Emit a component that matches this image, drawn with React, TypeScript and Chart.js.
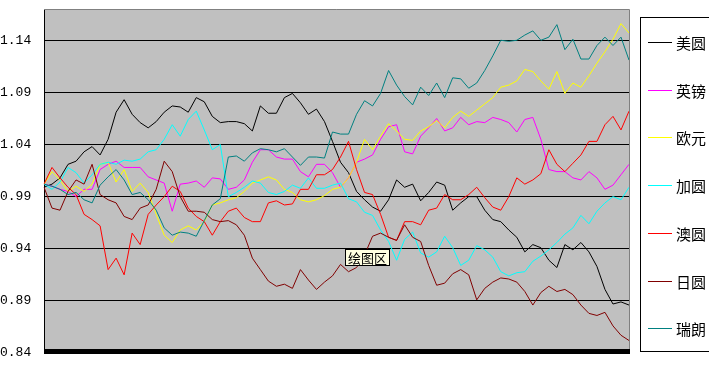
import React, { useEffect, useRef } from "react";
import { Chart, registerables } from "chart.js";

Chart.register(...registerables);

const seriesNames = ["美圆", "英镑", "欧元", "加圆", "澳圆", "日圆", "瑞朗"];

const usd = [
  0.999, 1.002, 1.008, 1.021, 1.024, 1.033, 1.038, 1.030, 1.045, 1.071,
  1.083, 1.069, 1.061, 1.056, 1.062, 1.071, 1.077, 1.076, 1.071, 1.085,
  1.081, 1.067, 1.061, 1.062, 1.062, 1.060, 1.053, 1.077, 1.070, 1.070,
  1.085, 1.089, 1.080, 1.069, 1.074, 1.062, 1.043, 1.023, 1.013, 0.995,
  0.987, 0.980, 0.976, 0.987, 1.006, 0.999, 1.002, 0.986, 0.994, 1.004,
  1.001, 0.977, 0.984, 0.990, 0.990, 0.977, 0.968, 0.966, 0.958, 0.951,
  0.937, 0.944, 0.941, 0.929, 0.922, 0.944, 0.939, 0.946, 0.937, 0.923,
  0.901, 0.887, 0.889, 0.886,
];

const gbp = [
  1.002, 1.000, 0.997, 0.995, 0.990, 0.997, 0.997, 1.016, 1.021, 1.024,
  1.018, 1.018, 1.018, 1.009, 1.006, 1.003, 0.976, 1.002, 1.003, 1.005,
  0.999, 1.008, 1.007, 0.997, 0.999, 1.006, 1.023, 1.035, 1.035, 1.028,
  1.026, 1.026, 1.014, 1.009, 1.021, 1.021, 1.013, 0.999, 1.008, 1.023,
  1.026, 1.030, 1.045, 1.057, 1.059, 1.033, 1.031, 1.048, 1.056, 1.065,
  1.053, 1.056, 1.066, 1.059, 1.062, 1.061, 1.066, 1.064, 1.061, 1.052,
  1.064, 1.066, 1.045, 1.016, 1.014, 1.014, 1.008, 1.006, 1.014, 1.008,
  0.997, 1.001, 1.011, 1.021,
];

const eur = [
  1.002, 1.014, 1.006, 0.995, 1.000, 0.995, 1.002, 1.021, 1.023, 1.004,
  1.016, 0.995, 1.003, 0.994, 0.973, 0.953, 0.946, 0.958, 0.962, 0.958,
  0.966, 0.982, 0.984, 0.987, 0.989, 0.995, 1.003, 1.006, 1.009, 1.006,
  0.997, 0.994, 0.987, 0.985, 0.987, 0.991, 0.997, 0.999, 1.008, 1.023,
  1.045, 1.035, 1.048, 1.060, 1.053, 1.045, 1.044, 1.053, 1.057, 1.063,
  1.056, 1.066, 1.072, 1.067, 1.073, 1.079, 1.085, 1.095, 1.097, 1.101,
  1.112, 1.110, 1.101, 1.093, 1.110, 1.089, 1.099, 1.095, 1.106, 1.118,
  1.129, 1.141, 1.156, 1.147,
];

const cad = [
  1.002, 0.997, 1.004, 1.018, 1.013, 1.003, 1.011, 1.021, 1.023, 1.021,
  1.025, 1.024, 1.026, 1.033, 1.035, 1.045, 1.059, 1.048, 1.064, 1.072,
  1.054, 1.035, 1.040, 0.990, 0.994, 0.999, 1.005, 1.003, 0.994, 0.992,
  0.995, 1.001, 0.998, 1.008, 0.998, 0.998, 1.001, 1.003, 0.988, 0.985,
  0.975, 0.972, 0.958, 0.947, 0.929, 0.949, 0.956, 0.936, 0.932, 0.937,
  0.952, 0.941, 0.924, 0.929, 0.943, 0.939, 0.932, 0.918, 0.914, 0.917,
  0.918, 0.928, 0.933, 0.939, 0.946, 0.954, 0.960, 0.972, 0.964, 0.976,
  0.984, 0.990, 0.987, 0.999,
];

const aud = [
  1.002, 1.018, 1.008, 0.999, 0.992, 0.973, 0.968, 0.962, 0.920, 0.931,
  0.915, 0.955, 0.944, 0.973, 0.982, 0.990, 1.000, 0.995, 0.979, 0.971,
  0.966, 0.953, 0.966, 0.976, 0.979, 0.970, 0.966, 0.966, 0.984, 0.986,
  0.982, 0.983, 0.997, 0.997, 1.011, 1.011, 1.016, 1.028, 1.043, 1.016,
  0.994, 0.992, 0.973, 0.951, 0.948, 0.966, 0.966, 0.963, 0.977, 0.979,
  0.992, 0.987, 0.987, 0.992, 0.999, 0.989, 0.980, 0.977, 0.990, 1.008,
  1.002, 1.006, 1.012, 1.035, 1.021, 1.014, 1.022, 1.030, 1.043, 1.043,
  1.059, 1.067, 1.054, 1.072,
];

const jpy = [
  0.999, 0.979, 0.977, 0.995, 1.006, 1.002, 1.021, 0.992, 0.987, 0.984,
  0.971, 0.968, 0.979, 0.982, 0.997, 1.024, 1.014, 0.990, 0.976, 0.976,
  0.975, 0.968, 0.966, 0.967, 0.963, 0.953, 0.931, 0.920, 0.909, 0.904,
  0.906, 0.902, 0.920, 0.910, 0.901, 0.908, 0.914, 0.925, 0.918, 0.922,
  0.934, 0.952, 0.955, 0.951, 0.948, 0.963, 0.951, 0.947, 0.924, 0.905,
  0.907, 0.916, 0.920, 0.915, 0.891, 0.902, 0.908, 0.912, 0.911, 0.908,
  0.899, 0.886, 0.898, 0.904, 0.899, 0.901, 0.896, 0.886, 0.878, 0.876,
  0.879, 0.866, 0.857, 0.852,
];

const chf = [
  1.002, 1.000, 0.997, 0.992, 0.994, 0.987, 0.984, 1.001, 1.009, 1.016,
  1.006, 0.992, 0.994, 0.987, 0.977, 0.960, 0.953, 0.956, 0.955, 0.952,
  0.967, 0.982, 0.988, 1.028, 1.029, 1.024, 1.032, 1.036, 1.035, 1.033,
  1.036, 1.028, 1.020, 1.028, 1.028, 1.027, 1.052, 1.050, 1.050, 1.069,
  1.082, 1.077, 1.089, 1.111, 1.097, 1.086, 1.078, 1.095, 1.087, 1.099,
  1.085, 1.104, 1.103, 1.094, 1.099, 1.111, 1.125, 1.140, 1.139, 1.140,
  1.145, 1.149, 1.140, 1.143, 1.155, 1.131, 1.141, 1.122, 1.122, 1.135,
  1.143, 1.135, 1.143, 1.121,
];

const seriesValues = [usd, gbp, eur, cad, aud, jpy, chf];
const seriesColors = ["#000000", "#ff00ff", "#ffff00", "#00ffff", "#ff0000", "#800000", "#008080"];
const yTickValues = [0.84, 0.89, 0.94, 0.99, 1.04, 1.09, 1.14];
const yMin = 0.84;
const yMax = 1.17;
const hoverLabel = "绘图区";
const periods = usd.map((_, i) => String(i + 1));

const plotFrame = {
  id: "plotFrame",
  beforeDraw(chart: any) {
    const { ctx, chartArea: a } = chart;
    ctx.save();
    ctx.fillStyle = "#c0c0c0";
    ctx.fillRect(a.left, a.top, a.right - a.left, a.bottom - a.top);
    ctx.restore();
  },
  afterDatasetsDraw(chart: any) {
    const { ctx, chartArea: a } = chart;
    ctx.save();
    ctx.strokeStyle = "#808080";
    ctx.lineWidth = 1;
    ctx.beginPath();
    ctx.moveTo(a.left, a.top + 0.5);
    ctx.lineTo(a.right + 0.5, a.top + 0.5);
    ctx.lineTo(a.right + 0.5, a.bottom);
    ctx.stroke();
    ctx.fillStyle = "#000000";
    ctx.fillRect(a.left, a.bottom - 4, a.right - a.left + 1, 5);
    ctx.restore();
  },
};

const boxLegend = {
  id: "boxLegend",
  afterDraw(chart: any) {
    const ctx = chart.ctx;
    ctx.save();
    ctx.strokeStyle = "#000000";
    ctx.lineWidth = 1;
    ctx.strokeRect(640.5, 17.5, 120, 334);
    ctx.font = '15px "Noto Sans CJK SC"';
    ctx.textBaseline = "middle";
    ctx.textAlign = "left";
    chart.data.datasets.forEach((ds: any, i: number) => {
      const y = Math.round(42 + i * 47.7) + 0.5;
      ctx.strokeStyle = ds.borderColor;
      ctx.beginPath();
      ctx.moveTo(648, y);
      ctx.lineTo(672, y);
      ctx.stroke();
      ctx.fillStyle = "#000000";
      ctx.fillText(ds.label, 676, y + 0.5);
    });
    // hover label box
    ctx.fillStyle = "#ffffe1";
    ctx.fillRect(345, 249, 44, 16);
    ctx.strokeStyle = "#000000";
    ctx.strokeRect(345.5, 249.5, 44, 16);
    ctx.fillStyle = "#000000";
    ctx.font = '13px "Noto Sans CJK SC"';
    ctx.fillText(hoverLabel, 348, 258);
    ctx.restore();
  },
};

export default function App() {
  const ref = useRef<HTMLCanvasElement>(null);
  useEffect(() => {
    if (!ref.current) return;
    const n = seriesNames.length;
    const chart = new Chart(ref.current, {
      type: "line",
      data: {
        labels: periods,
        datasets: seriesNames.map((name, i) => ({
          label: name,
          data: seriesValues[i],
          borderColor: seriesColors[i],
          backgroundColor: seriesColors[i],
          borderWidth: 1,
          pointRadius: 0,
          tension: 0,
          fill: false,
          order: n - i,
        })),
      },
      options: {
        animation: false,
        responsive: false,
        events: [],
        layout: { padding: { left: 0, right: 80, top: 9, bottom: 13 } },
        plugins: { legend: { display: false }, tooltip: { enabled: false } },
        scales: {
          x: { display: false, offset: false },
          y: {
            min: yMin,
            max: yMax,
            afterBuildTicks: (scale: any) => {
              scale.ticks = yTickValues.map((v) => ({ value: v }));
            },
            afterFit: (scale: any) => {
              scale.width = 44;
            },
            grid: { color: "#000000", lineWidth: 1, drawTicks: false },
            border: { display: true, color: "#000000", width: 1 },
            ticks: {
              crossAlign: "far",
              padding: 0,
              color: "#000000",
              font: { family: '"Liberation Mono", monospace', size: 13 },
              callback: (v: any) => Number(v).toFixed(2),
            },
          },
        },
      },
      plugins: [plotFrame, boxLegend],
    });
    return () => chart.destroy();
  }, []);
  return (
    <div style={{ position: "absolute", left: 0, top: 0, width: 709, height: 366, background: "#ffffff" }}>
      <canvas ref={ref} width={709} height={366} style={{ display: "block" }} />
    </div>
  );
}
